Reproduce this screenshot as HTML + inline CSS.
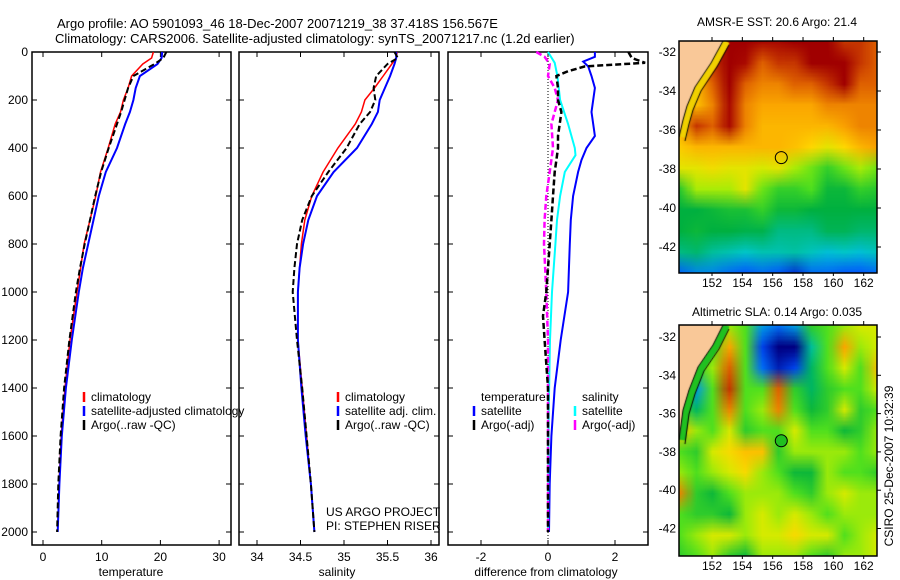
<!DOCTYPE html>
<html><head><meta charset="utf-8">
<style>
body{margin:0;background:#fff;}
#wrap{position:relative;width:900px;height:580px;overflow:hidden;font-family:"Liberation Sans",sans-serif;}
svg{position:absolute;left:0;top:0;}
canvas{position:absolute;}
text{font-family:"Liberation Sans",sans-serif;font-size:12px;fill:#000;}
</style></head>
<body>
<div id="wrap">
<canvas id="sst" width="198" height="232" style="left:679px;top:41px"></canvas>
<canvas id="sla" width="198" height="231" style="left:679px;top:325px"></canvas>
<svg id="svg" width="900" height="580" xmlns="http://www.w3.org/2000/svg">
<text x="57" y="28" style="font-size:13px">Argo profile: AO 5901093_46 18-Dec-2007 20071219_38 37.418S 156.567E</text>
<text x="55" y="43" style="font-size:13px">Climatology: CARS2006. Satellite-adjusted climatology: synTS_20071217.nc (1.2d earlier)</text>
<text x="777" y="26" text-anchor="middle">AMSR-E SST: 20.6 Argo: 21.4</text>
<text x="777" y="316" text-anchor="middle">Altimetric SLA: 0.14 Argo: 0.035</text>
<text transform="translate(893,466) rotate(-90)" text-anchor="middle">CSIRO 25-Dec-2007 10:32:39</text>
<text x="326" y="516">US ARGO PROJECT</text>
<text x="326" y="530">PI: STEPHEN RISER</text>
</svg>
</div>
<script>
// ---- data ----
const depths=[0,25,50,100,150,200,250,300,400,500,600,700,800,900,1000,1200,1400,1600,1800,2000];
const tempClim=[18.8,18.5,17,15.1,14.5,13.7,13.2,12.3,11.1,9.8,9,8,7,6.4,5.8,4.6,3.75,3.1,2.75,2.5];
const tempSat=[20.3,20.2,19.5,16.5,15.8,15.4,14.8,14,12.6,10.7,9.5,8.6,7.7,6.8,6.1,4.9,3.9,3.2,2.8,2.5];
const tempArgo=[21,20.5,19,15.4,14.5,13.9,13.3,12.6,11.2,9.9,8.9,8,7.1,6.3,5.6,4.5,3.6,3.0,2.6,2.4];
const salClim=[35.61,35.6,35.55,35.45,35.35,35.24,35.2,35.13,34.93,34.76,34.63,34.55,34.51,34.49,34.47,34.47,34.52,34.57,34.62,34.66];
const salSat=[35.6,35.6,35.58,35.53,35.47,35.41,35.39,35.32,35.15,34.88,34.69,34.59,34.53,34.49,34.47,34.47,34.51,34.56,34.62,34.66];
const salArgo=[35.58,35.62,35.5,35.37,35.34,35.36,35.3,35.18,35.03,34.82,34.63,34.52,34.46,34.43,34.41,34.46,34.52,34.57,34.62,34.66];
const dTempArgoDepth=[0,25,45,60,80,100,150,200,250,300,350,400,450,500,600,700,800,900,1000,1100,1200,1400,1600,1800,2000];
const dTempArgo=[2.4,2.5,2.9,1.1,0.6,0.25,0.3,0.3,0.4,0.35,0.3,0.3,0.25,0.2,0.15,0.1,0.05,0.0,-0.05,-0.15,-0.1,0,0,0,0];
const dTempSatDepth=[0,20,40,60,100,150,200,250,300,350,400,450,500,600,700,800,1000,1200,1400,1600,1800,2000];
const dTempSat=[1.4,1.4,1.05,1.2,1.3,1.4,1.35,1.3,1.35,1.4,1.15,1.0,0.9,0.75,0.68,0.65,0.6,0.38,0.2,0.1,0.05,0.03];
const dSalSatDepth=[0,45,100,200,300,400,430,500,600,700,800,1000,1200,1500,2000];
const dSalSat=[0,0.2,0.28,0.36,0.6,0.8,0.82,0.5,0.36,0.27,0.22,0.12,0.06,0.02,0];
const dSalArgoDepth=[0,20,50,100,150,200,250,300,400,500,600,700,800,1000,1200,1500,2000];
const dSalArgo=[-0.35,-0.1,0.05,0,0.2,0.3,0.2,0.1,0.15,0.05,-0.05,-0.1,-0.12,-0.05,0,0,0];
const depthTicks=[0,200,400,600,800,1000,1200,1400,1600,1800,2000];
const tempTicks=[0,10,20,30];
const salTicks=[34,34.5,35,35.5,36];
const diffTicks=[-2,0,2];
const sstGrid=[
[-1,-1,-1,1,1,.95,.95,1,1,1,.9,.9,.85],
[-1,-1,.9,1,.95,.85,.9,.9,1,1,1,.9,.85],
[-1,.7,.85,1,.85,.8,.8,.85,.85,.9,1,.85,.85],
[-1,.7,.8,.95,.8,.75,.75,.75,.75,.8,.8,.8,.8],
[.72,.9,.85,.95,.8,.72,.72,.72,.72,.72,.76,.8,.8],
[.68,.72,.72,.72,.72,.72,.72,.7,.66,.62,.66,.72,.76],
[.62,.62,.64,.62,.62,.6,.62,.56,.52,.46,.52,.56,.52],
[.44,.56,.56,.56,.62,.52,.46,.46,.5,.4,.4,.46,.44],
[.38,.38,.4,.42,.42,.46,.4,.4,.38,.38,.38,.38,.38],
[.38,.4,.38,.38,.37,.37,.32,.32,.32,.36,.36,.34,.34],
[.32,.34,.3,.28,.26,.28,.28,.29,.27,.24,.26,.24,.27],
[.14,.18,.18,.15,.13,.15,.13,.08,.15,.15,.13,.13,.15]];
const slaGrid=[
[.5,.5,.5,.55,.5,.2,.15,.2,.45,.5,.55,.6,.6],
[.5,.5,.5,.75,.5,.1,0,0,.3,.5,.75,.55,.6],
[.5,.45,.55,.85,.5,.15,.05,.1,.35,.5,.6,.5,.7],
[.45,.2,.5,.9,.5,.5,.85,.45,.35,.45,.5,.5,.6],
[.5,.35,.5,.8,.5,.55,.8,.5,.4,.45,.6,.45,.5],
[.7,.55,.5,.6,.45,.5,.5,.6,.5,.5,.4,.45,.55],
[.5,.45,.6,.65,.7,.7,.45,.55,.55,.55,.55,.5,.55],
[.55,.5,.55,.6,.65,.55,.5,.4,.4,.55,.5,.5,.45],
[.8,.45,.4,.5,.55,.55,.55,.5,.45,.55,.6,.55,.55],
[.5,.45,.45,.4,.55,.6,.55,.6,.55,.5,.55,.55,.55],
[.5,.55,.6,.6,.55,.6,.6,.65,.6,.6,.5,.55,.6],
[.45,.5,.55,.45,.4,.55,.55,.55,.5,.45,.55,.55,.6]];
const lonTicks=[152,154,156,158,160,162];
const latTicks=[-32,-34,-36,-38,-40,-42];
const argoLon=156.567, argoLat=-37.418;

// ---- helpers ----
const NS="http://www.w3.org/2000/svg";
const svg=document.getElementById('svg');
function el(tag,attrs,parent){const e=document.createElementNS(NS,tag);for(const k in attrs)e.setAttribute(k,attrs[k]);(parent||svg).appendChild(e);return e;}
const yD=d=>52+0.24*d;
const xT=v=>43+5.87*v;
const xS=v=>257+87*(v-34);
const xDf=v=>548+33.5*v;

function frame(x0,x1,name){
  const r=el('rect',{x:x0,y:52,width:x1-x0,height:493,fill:'none',stroke:'#000','stroke-width':1.5});
  
  
  depthTicks.forEach(d=>{
    el('line',{x1:x0,x2:x0+5,y1:yD(d),y2:yD(d),stroke:'#000'});
    el('line',{x1:x1-5,x2:x1,y1:yD(d),y2:yD(d),stroke:'#000'});
  });
}
function xticks(ticks,fx,name,title,tx){
  ticks.forEach(t=>{
    el('line',{x1:fx(t),x2:fx(t),y1:545,y2:540,stroke:'#000'});
    el('line',{x1:fx(t),x2:fx(t),y1:52,y2:57,stroke:'#000'});
    const s=el('text',{x:fx(t),y:561,'text-anchor':'middle'});s.textContent=String(t);
    
    
  });
  const tt=el('text',{x:tx,y:576,'text-anchor':'middle'});tt.textContent=title;
  
  
}
function line(ds,vs,fx,color,w,dash,name){
  const pts=ds.map((d,i)=>fx(vs[i]).toFixed(1)+','+yD(d).toFixed(1)).join(' ');
  const p=el('polyline',{points:pts,fill:'none',stroke:color,'stroke-width':w,'stroke-dasharray':dash||'none'});
  
  
}
function legendEntry(x,y,color,label,name){
  el('line',{x1:x,x2:x,y1:y-6,y2:y+4,stroke:color,'stroke-width':2.5});
  const t=el('text',{x:x+7,y:y+3});t.textContent=label;
  
  
}

frame(32,231,'temperature-panel');frame(239,439,'salinity-panel');frame(448,648,'difference-panel');
depthTicks.forEach(d=>{const t=el('text',{x:28,y:yD(d)+4,'text-anchor':'end'});t.textContent=String(d);
  
  });
xticks(tempTicks,xT,'temperature','temperature',131);
xticks(salTicks,xS,'salinity','salinity',337);
xticks(diffTicks,xDf,'difference','difference from climatology',546);

line(depths,tempClim,xT,'#f00',1.5,null,'temp-climatology-line');
line(depths,tempSat,xT,'#00f',2,null,'temp-satellite-line');
line(depths,tempArgo,xT,'#000',2,'6,3','temp-argo-line');
legendEntry(84,398,'#f00','climatology','legend-climatology');
legendEntry(84,412,'#00f','satellite-adjusted climatology','legend-satellite-adjusted');
legendEntry(84,426,'#000','Argo(..raw -QC)','legend-argo');
line(depths,salClim,xS,'#f00',1.5,null,'sal-climatology-line');
line(depths,salSat,xS,'#00f',2,null,'sal-satellite-line');
line(depths,salArgo,xS,'#000',2,'6,3','sal-argo-line');
legendEntry(338,398,'#f00','climatology','legend-sal-climatology');
legendEntry(338,412,'#00f','satellite adj. clim.','legend-sal-satellite');
legendEntry(338,426,'#000','Argo(..raw -QC)','legend-sal-argo');
el('line',{x1:xDf(0),x2:xDf(0),y1:52,y2:545,stroke:'#000','stroke-dasharray':'1,2'});
line(dTempSatDepth,dTempSat,xDf,'#00f',2,null,'diff-temp-satellite-line');
line(dSalSatDepth,dSalSat,xDf,'#0ff',2,null,'diff-sal-satellite-line');
line(dSalArgoDepth,dSalArgo,xDf,'#f0f',2.5,'6,3','diff-sal-argo-line');
line(dTempArgoDepth,dTempArgo,xDf,'#000',2.5,'6,3','diff-temp-argo-line');
const lt=el('text',{x:481,y:401});lt.textContent='temperature';

const ls=el('text',{x:582,y:401});ls.textContent='salinity';

legendEntry(474,412,'#00f','satellite','legend-diff-temp-satellite');
legendEntry(474,426,'#000','Argo(-adj)','legend-diff-temp-argo');
legendEntry(575,412,'#0ff','satellite','legend-diff-sal-satellite');
legendEntry(575,426,'#f0f','Argo(-adj)','legend-diff-sal-argo');

// ---- maps ----
const stops=[[0,[0,0,130]],[.12,[0,80,255]],[.25,[0,200,210]],[.38,[0,176,64]],[.5,[80,224,30]],[.58,[200,240,0]],[.66,[255,215,0]],[.76,[250,160,0]],[.86,[220,90,0]],[.95,[170,10,0]],[1,[160,0,0]]];
function cmap(v){for(let i=1;i<stops.length;i++){if(v<=stops[i][0]){const a=stops[i-1],b=stops[i],f=(v-a[0])/(b[0]-a[0]);return a[1].map((c,k)=>Math.round(c+(b[1][k]-c)*f));}}return stops[stops.length-1][1];}
function drawMap(id,grid,land,coastCol){
  const c=document.getElementById(id),ctx=c.getContext('2d');
  const sm=document.createElement('canvas');sm.width=13;sm.height=12;const sc=sm.getContext('2d');
  const img=sc.createImageData(13,12);
  grid.forEach((row,r)=>row.forEach((v,k)=>{const col=v<0?cmap(.9):cmap(v);const o=(r*13+k)*4;img.data[o]=col[0];img.data[o+1]=col[1];img.data[o+2]=col[2];img.data[o+3]=255;}));
  sc.putImageData(img,0,0);
  ctx.imageSmoothingEnabled=true;ctx.drawImage(sm,-8,-10,198+16,c.height+20);
  // coastal strip
  ctx.strokeStyle=coastCol;ctx.lineWidth=8;ctx.beginPath();land.forEach((p,i)=>i?ctx.lineTo(p[0]+3,p[1]):ctx.moveTo(p[0]+3,p[1]));ctx.stroke();
  ctx.fillStyle='#f9c898';ctx.beginPath();ctx.moveTo(0,0);land.forEach(p=>ctx.lineTo(p[0],p[1]));ctx.closePath();ctx.fill();
  ctx.strokeStyle='#000';ctx.lineWidth=1;ctx.beginPath();land.forEach((p,i)=>i?ctx.lineTo(p[0],p[1]):ctx.moveTo(p[0],p[1]));ctx.stroke();
  ctx.beginPath();land.forEach((p,i)=>i?ctx.lineTo(p[0]+6,p[1]+4):ctx.moveTo(p[0]+6,p[1]+4));ctx.stroke();
}
drawMap('sst',sstGrid,[[44,0],[32,22],[16,46],[8,65],[4,79],[0,96]],'#f0d000');
drawMap('sla',slaGrid,[[44,0],[34,20],[19,42],[10,65],[4,85],[0,115]],'#20c020');
const xLon=l=>712+(l-152)*15.17;
function mapAxes(top,bottom,yLat,name,fill){
  el('rect',{x:679,y:top,width:198,height:bottom-top,fill:'none',stroke:'#000','stroke-width':1.5});
  lonTicks.forEach(l=>{el('line',{x1:xLon(l),x2:xLon(l),y1:top,y2:top-4,stroke:'#000'});el('line',{x1:xLon(l),x2:xLon(l),y1:bottom,y2:bottom+3,stroke:'#000'});
    const t=el('text',{x:xLon(l),y:bottom+14,'text-anchor':'middle'});t.textContent=String(l);
    });
  latTicks.forEach(a=>{const y=yLat(a);el('line',{x1:877,x2:881,y1:y,y2:y,stroke:'#000'});
    const t=el('text',{x:676,y:y+4,'text-anchor':'end'});t.textContent=String(a);
    });
  const c=el('circle',{cx:xLon(argoLon),cy:yLat(argoLat),r:6,fill:fill,stroke:'#000','stroke-width':1});
  
}
mapAxes(41,273,a=>52+(-32-a)*19.5,'sst-map','none');
mapAxes(325,556,a=>337+(-32-a)*19.15,'sla-map','#20c020');
</script>
</body></html>
